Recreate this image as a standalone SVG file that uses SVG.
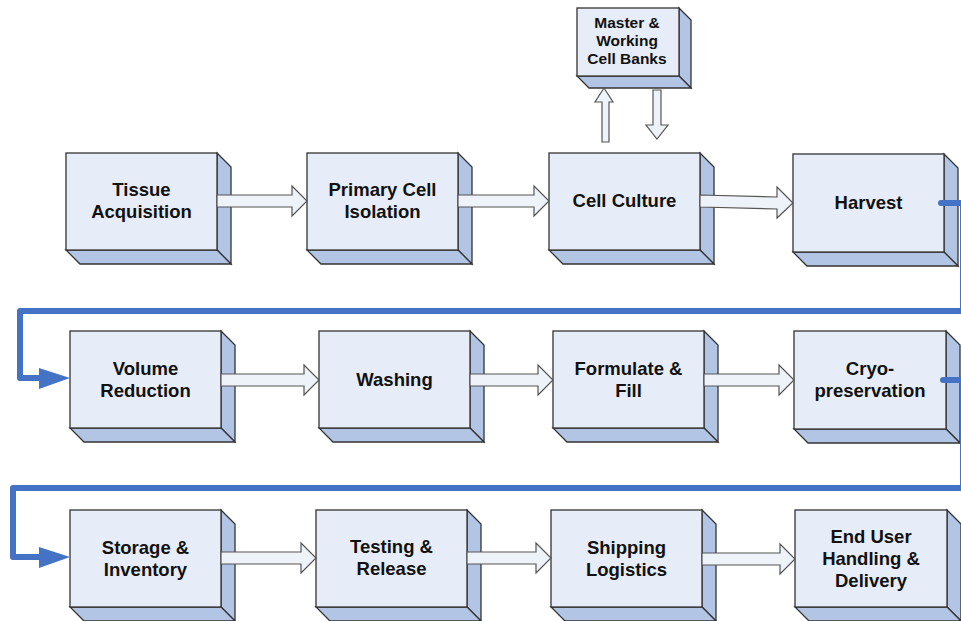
<svg xmlns="http://www.w3.org/2000/svg" width="961" height="621" viewBox="0 0 961 621">
<style>
.front{fill:#e7edf8;stroke:#333;stroke-width:1.3}
.side{fill:#b2c5e5;stroke:#333;stroke-width:1.3;stroke-linejoin:miter}
.t{font-family:"Liberation Sans",Arial,sans-serif;font-weight:bold;font-size:18.5px;fill:#111;text-anchor:middle}
.ts{font-family:"Liberation Sans",Arial,sans-serif;font-weight:bold;font-size:15.5px;fill:#111;text-anchor:middle}
.ha{fill:#eef2f9;stroke:#555;stroke-width:1.2;stroke-linejoin:miter}
.blue{fill:none;stroke:#4472c4;stroke-width:6;stroke-linejoin:round;stroke-linecap:round}
.bh{fill:#4472c4}
</style>
<rect width="961" height="621" fill="#fff"/>

<g id="n-tissue">
<polygon class="side" points="217,153 231,167 231,264 217,250"/>
<polygon class="side" points="66,250 217,250 231,264 80,264"/>
<rect class="front" x="66" y="153" width="151" height="97"/>
<text class="t" x="141.5" y="195.5">Tissue</text>
<text class="t" x="141.5" y="217.5">Acquisition</text>
</g>
<g id="n-primary">
<polygon class="side" points="458,153 472,167 472,264 458,250"/>
<polygon class="side" points="307,250 458,250 472,264 321,264"/>
<rect class="front" x="307" y="153" width="151" height="97"/>
<text class="t" x="382.5" y="195.5">Primary Cell</text>
<text class="t" x="382.5" y="217.5">Isolation</text>
</g>
<g id="n-culture">
<polygon class="side" points="700,153 714,167 714,264 700,250"/>
<polygon class="side" points="549,250 700,250 714,264 563,264"/>
<rect class="front" x="549" y="153" width="151" height="97"/>
<text class="t" x="624.5" y="207">Cell Culture</text>
</g>
<g id="n-harvest">
<polygon class="side" points="944,154 958,168 958,266 944,252"/>
<polygon class="side" points="793,252 944,252 958,266 807,266"/>
<rect class="front" x="793" y="154" width="151" height="98"/>
<text class="t" x="868.5" y="209">Harvest</text>
</g>
<g id="n-banks">
<polygon class="side" points="679,8 691,20 691,88 679,76"/>
<polygon class="side" points="577,76 679,76 691,88 589,88"/>
<rect class="front" x="577" y="8" width="102" height="68"/>
<text class="ts" x="627" y="27.5">Master &amp;</text>
<text class="ts" x="627" y="45.5">Working</text>
<text class="ts" x="627" y="63.5">Cell Banks</text>
</g>

<g id="n-volume">
<polygon class="side" points="221,331 235,345 235,442 221,428"/>
<polygon class="side" points="70,428 221,428 235,442 84,442"/>
<rect class="front" x="70" y="331" width="151" height="97"/>
<text class="t" x="145.5" y="374.5">Volume</text>
<text class="t" x="145.5" y="396.5">Reduction</text>
</g>
<g id="n-washing">
<polygon class="side" points="470,331 484,345 484,442 470,428"/>
<polygon class="side" points="319,428 470,428 484,442 333,442"/>
<rect class="front" x="319" y="331" width="151" height="97"/>
<text class="t" x="394.5" y="386">Washing</text>
</g>
<g id="n-formulate">
<polygon class="side" points="704,331 718,345 718,442 704,428"/>
<polygon class="side" points="553,428 704,428 718,442 567,442"/>
<rect class="front" x="553" y="331" width="151" height="97"/>
<text class="t" x="628.5" y="374.5">Formulate &amp;</text>
<text class="t" x="628.5" y="396.5">Fill</text>
</g>
<g id="n-cryo">
<polygon class="side" points="946,331 960,345 960,443 946,429"/>
<polygon class="side" points="794,429 946,429 960,443 808,443"/>
<rect class="front" x="794" y="331" width="152" height="98"/>
<text class="t" x="870" y="375">Cryo-</text>
<text class="t" x="870" y="397">preservation</text>
</g>

<g id="n-storage">
<polygon class="side" points="221,510 235,524 235,621 221,607"/>
<polygon class="side" points="70,607 221,607 235,621 84,621"/>
<rect class="front" x="70" y="510" width="151" height="97"/>
<text class="t" x="145.5" y="553.5">Storage &amp;</text>
<text class="t" x="145.5" y="575.5">Inventory</text>
</g>
<g id="n-testing">
<polygon class="side" points="467,510 481,524 481,621 467,607"/>
<polygon class="side" points="316,607 467,607 481,621 330,621"/>
<rect class="front" x="316" y="510" width="151" height="97"/>
<text class="t" x="391.5" y="552.5">Testing &amp;</text>
<text class="t" x="391.5" y="574.5">Release</text>
</g>
<g id="n-shipping">
<polygon class="side" points="702,510 716,524 716,621 702,607"/>
<polygon class="side" points="551,607 702,607 716,621 565,621"/>
<rect class="front" x="551" y="510" width="151" height="97"/>
<text class="t" x="626.5" y="553.5">Shipping</text>
<text class="t" x="626.5" y="575.5">Logistics</text>
</g>
<g id="n-enduser">
<polygon class="side" points="947,510 961,524 961,621 947,607"/>
<polygon class="side" points="795,607 947,607 961,621 809,621"/>
<rect class="front" x="795" y="510" width="152" height="97"/>
<text class="t" x="871" y="542.5">End User</text>
<text class="t" x="871" y="564.5">Handling &amp;</text>
<text class="t" x="871" y="586.5">Delivery</text>
</g>

<g id="connectors">
<polygon class="ha" points="217,195 292,195 292,186 307,201 292,216 292,207 217,207"/>
<polygon class="ha" points="458,195 534,195 534,186 549,201 534,216 534,207 458,207"/>
<polygon class="ha" points="700,195 777,197 777,187 793,203 777,218 777,209 700,207"/>
<polygon class="ha" points="602,142 602,102 595,102 604,88 613,102 609,102 609,142"/>
<polygon class="ha" points="653,90 661,90 661,125 668,125 657,139 646,125 653,125"/>

<polygon class="ha" points="221,374 304,374 304,365 319,380 304,395 304,386 221,386"/>
<polygon class="ha" points="470,374 538,374 538,365 553,380 538,395 538,386 470,386"/>
<polygon class="ha" points="704,374 779,374 779,365 794,380 779,395 779,386 704,386"/>

<polygon class="ha" points="221,552 301,552 301,543 316,558 301,573 301,564 221,564"/>
<polygon class="ha" points="467,552 536,552 536,543 551,558 536,573 536,564 467,564"/>
<polygon class="ha" points="702,553 780,553 780,544 795,559 780,574 780,565 702,565"/>

<path class="blue" d="M941 203 H963 V311 H20 V378 H44"/>
<polygon class="bh" points="39,368 70,378 39,389"/>
<path class="blue" d="M943 380 H963 V488 H13 V557 H44"/>
<polygon class="bh" points="39,547 70,557 39,568"/>
</g>
</svg>
